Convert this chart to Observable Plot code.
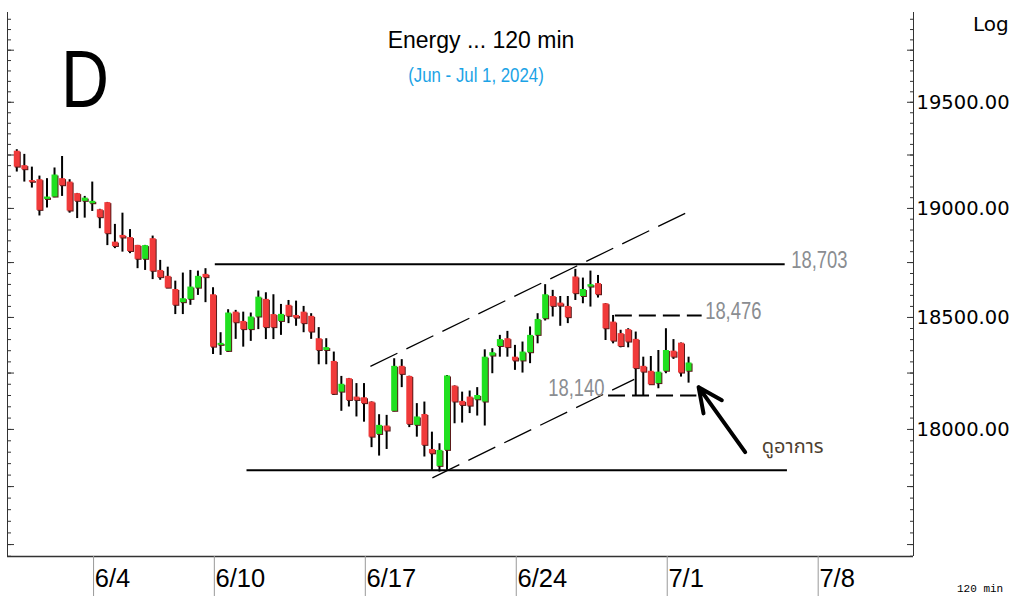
<!DOCTYPE html>
<html>
<head>
<meta charset="utf-8">
<script src="https://cdn.jsdelivr.net/npm/d3@7"></script>
<script src="https://cdn.jsdelivr.net/npm/@observablehq/plot@0.6"></script>
<style>
html, body { margin: 0; padding: 0; background: #fff; }
#wrap { position: relative; width: 1016px; height: 596px; overflow: hidden; background: #fff; }
#chart { position: absolute; left: 0; top: 0; }
.lbl { position: absolute; white-space: nowrap; line-height: 1; }
#title { left: 481px; top: 27px; transform: translateX(-50%); font: 23px "Liberation Sans", Arial, sans-serif; color: #000; }
#subtitle { left: 476px; top: 63px; transform: translateX(-50%) scaleX(0.82); font: 20.5px "Liberation Sans", Arial, sans-serif; color: #1ba3e6; }
#bigD { left: 61px; top: 33px; transform: scaleX(0.82); transform-origin: 0 0; font: 81px "Liberation Sans", Arial, sans-serif; color: #000; }
#logLbl { left: 973px; top: 12px; font: 20px "DejaVu Sans", sans-serif; color: #000; }
#tf { left: 957px; top: 583px; font: 11px "Liberation Mono", monospace; color: #000; }
</style>
</head>
<body>
<div id="wrap">
  <div id="chart"></div>
  <div class="lbl" id="title">Energy ... 120 min</div>
  <div class="lbl" id="subtitle">(Jun - Jul 1, 2024)</div>
  <div class="lbl" id="bigD">D</div>
  <div class="lbl" id="logLbl">Log</div>
  <div class="lbl" id="tf">120 min</div>
</div>
<script>
// ---- OHLC values of the 120-min bars ----
const open = [
  19268,19200,19130,19134,19042,19053,19139,19123,19069,19033,
  19022,18994,19027,18844,18875,18865,18829,18765,18860,18714,
  18687,18627,18567,18582,18633,18696,18603,18374,18347,18524,
  18482,18445,18502,18582,18513,18482,18555,18509,18524,18505,
  18404,18351,18302,18165,18225,18143,18140,18121,17978,18015,
  18080,18280,18235,18018,18066,17912,17838,17908,18192,18124,
  18143,18131,18121,18326,18369,18404,18321,18304,18341,18419,
  18494,18595,18565,18550,18684,18595,18638,18654,18562,18479,
  18427,18445,18401,18280,18258,18203,18258,18348,18384,18258];
const high = [
  19275,19253,19193,19151,19139,19189,19243,19134,19070,19056,
  19123,18996,19028,18926,18978,18902,18829,18829,18872,18760,
  18729,18665,18702,18714,18711,18722,18635,18431,18535,18532,
  18524,18520,18620,18612,18603,18559,18577,18574,18550,18517,
  18454,18404,18344,18235,18226,18203,18203,18122,18065,18062,
  18314,18310,18236,18114,18121,17988,17937,18239,18193,18165,
  18170,18185,18354,18359,18419,18437,18374,18389,18457,18517,
  18649,18623,18595,18595,18719,18679,18711,18691,18563,18509,
  18442,18449,18434,18321,18324,18351,18449,18400,18385,18321];
const low = [
  19170,19123,19095,18965,19002,19050,19056,18978,18953,18955,
  18986,18906,18828,18814,18798,18791,18722,18714,18672,18669,
  18631,18513,18513,18555,18600,18567,18333,18329,18342,18401,
  18366,18392,18445,18400,18400,18419,18472,18460,18431,18401,
  18287,18287,18150,18080,18099,18055,18032,17920,17883,17912,
  18078,18185,18008,17966,17879,17821,17813,17821,18025,18028,
  18070,18059,18015,18247,18321,18321,18262,18250,18292,18381,
  18484,18502,18460,18472,18577,18562,18547,18588,18396,18381,
  18363,18363,18150,18150,18195,18180,18247,18311,18232,18205];
const close = [
  19193,19181,19122,18991,19053,19156,19106,18988,19033,19048,
  19033,18957,18883,18824,18863,18801,18765,18828,18710,18681,
  18633,18555,18585,18638,18687,18681,18366,18383,18520,18476,
  18445,18502,18592,18454,18454,18514,18505,18497,18472,18434,
  18351,18364,18155,18200,18128,18128,18114,17966,18018,17993,
  18280,18244,18022,18055,17930,17893,17908,18237,18121,18106,
  18103,18150,18321,18341,18400,18364,18304,18344,18419,18491,
  18603,18550,18551,18499,18608,18627,18649,18603,18449,18393,
  18369,18389,18270,18254,18198,18254,18351,18321,18250,18295];

// ---- x axis: bar index where each labelled day starts ----
const dayStart  = [10, 26, 46, 66, 86, 106];
const dayLabels = ["6/4", "6/10", "6/17", "6/24", "7/1", "7/8"];

// ---- y axis labels ----
const yTickValues = [18000, 18500, 19000, 19500];

// ---- annotation levels (value drawn, from-bar, to-bar) and their labels ----
const solidValues = [18742, 17821];
const solidFrom   = [26.3, 30.5];
const solidTo     = [101.8, 102.1];
const dashValues  = [18509, 18150];
const dashFrom    = [79.3, 78.4];
const dashTo      = [90.8, 90.1];
const levelLabels = ["18,703", "18,476", "18,140"];

// ---- channel lines (bar index, value) ----
const channelX1 = [46.85, 55.06];
const channelY1 = [18280, 17788];
const channelX2 = [89.23, 81.8];
const channelY2 = [18989, 18222];

// ---- arrow + note ----
const arrowFrom = [96.5, 17900];
const arrowTo   = [90.33, 18187];
const noteText  = "ดูอาการ";
const notePos   = [98.7, 17925];

const xDomain = [-1.23, 118.8];
const yDomain = [17449, 19933];

const RED = "#f03a3a", GREEN = "#20e020";

const candles = open.map((o, i) => ({i, open: o, high: high[i], low: low[i], close: close[i]}));
const up = candles.filter(d => d.close >= d.open);
const down = candles.filter(d => d.close < d.open);

const solid = solidValues.map((v, k) => ({v, a: solidFrom[k], b: solidTo[k]}));
const dashed = dashValues.map((v, k) => ({v, a: dashFrom[k], b: dashTo[k]}));
const chan = channelX1.map((x, k) => ({x1: x, y1: channelY1[k], x2: channelX2[k], y2: channelY2[k]}));

const minorTicks = d3.range(17450, 19950, 50);
const midTicks = minorTicks.filter(v => v % 250 === 0);

const labelFont = {fontFamily: "'Liberation Sans', Arial, sans-serif", fontSize: 23, fill: "#8a8d91"};

const chart = Plot.plot({
  width: 1016,
  height: 596,
  marginLeft: 7,
  marginRight: 103,
  marginTop: 12,
  marginBottom: 40,
  x: {type: "linear", domain: xDomain},
  y: {type: "log", domain: yDomain},
  style: {background: "#fff", color: "#000", overflow: "visible"},
  marks: [
    // frame lines (left, right, bottom)
    Plot.ruleX([xDomain[0], xDomain[1]], {stroke: "#333", strokeWidth: 1}),
    Plot.ruleY([yDomain[0]], {stroke: "#333", strokeWidth: 1.5}),
    // inward ticks on right axis
    Plot.axisY(minorTicks, {anchor: "left", frameAnchor: "right", tickSize: 3, fill: "none", stroke: "#333", label: null}),
    Plot.axisY(midTicks, {anchor: "left", frameAnchor: "right", tickSize: 6, fill: "none", stroke: "#333", label: null}),
    // inward ticks on left axis
    Plot.axisY(minorTicks, {anchor: "right", frameAnchor: "left", tickSize: 3, fill: "none", stroke: "#333", label: null}),
    Plot.axisY(midTicks, {anchor: "right", frameAnchor: "left", tickSize: 6, fill: "none", stroke: "#333", label: null}),
    // right axis labels
    Plot.axisY(yTickValues, {anchor: "right", tickSize: 0, tickPadding: 3, tickFormat: d => d.toFixed(2),
      fontFamily: "'DejaVu Sans', sans-serif", fontSize: 19.5, fill: "#000", label: null}),
    // date ticks and labels
    Plot.axisX(dayStart, {anchor: "bottom", tickSize: 40, dx: 1.3, fill: "none", stroke: "#999", label: null}),
    Plot.axisX(dayStart, {anchor: "bottom", tickSize: 0, tickPadding: 12, dx: 2.5, textAnchor: "start",
      tickFormat: d => dayLabels[dayStart.indexOf(d)],
      fontFamily: "'Liberation Sans', Arial, sans-serif", fontSize: 25.5, fill: "#000", label: null}),

    // channel
    Plot.link(chan, {x1: "x1", y1: "y1", x2: "x2", y2: "y2", stroke: "#000", strokeWidth: 1.3, strokeDasharray: "30,10"}),
    // horizontal levels
    Plot.ruleY(solid, {y: "v", x1: "a", x2: "b", stroke: "#000", strokeWidth: 2}),
    Plot.ruleY(dashed, {y: "v", x1: "a", x2: "b", stroke: "#000", strokeWidth: 2, strokeDasharray: "17,7"}),

    // candles: wicks, shadow, bodies
    Plot.ruleX(candles, {x: "i", y1: "low", y2: "high", stroke: "#000", strokeWidth: 2}),
    Plot.ruleX(candles, {x: "i", y1: "open", y2: "close", stroke: "#5a1a1a", strokeWidth: 6, dx: 1, dy: 1}),
    Plot.ruleX(down, {x: "i", y1: "open", y2: "close", stroke: RED, strokeWidth: 6}),
    Plot.ruleX(up, {x: "i", y1: "open", y2: "close", stroke: GREEN, strokeWidth: 6}),

    // level labels
    Plot.text([levelLabels[0]], {x: solidTo[0], y: solidValues[0], text: d => d, textAnchor: "start", dx: 6, dy: -4, ...labelFont}),
    Plot.text([levelLabels[1]], {x: dashTo[0], y: dashValues[0], text: d => d, textAnchor: "start", dx: 3, dy: -4, ...labelFont}),
    Plot.text([levelLabels[2]], {x: dashFrom[1], y: dashValues[1], text: d => d, textAnchor: "end", dx: -4, dy: -7, ...labelFont}),

    // arrow and note
    Plot.arrow([0], {x1: () => arrowFrom[0], y1: () => arrowFrom[1], x2: () => arrowTo[0], y2: () => arrowTo[1],
      stroke: "#000", strokeWidth: 4, headLength: 10, headAngle: 50}),
    Plot.text([noteText], {x: notePos[0], y: notePos[1], text: d => d, textAnchor: "start",
      fontFamily: "'Noto Sans Thai', Tahoma, 'Noto Sans', sans-serif", fontSize: 20, fill: "#4e3f30"})
  ]
});
document.getElementById("chart").appendChild(chart);

// condense the level labels horizontally (narrow face in the original)
chart.querySelectorAll("text").forEach(t => {
  if (levelLabels.includes(t.textContent)) {
    const w = t.getComputedTextLength();
    t.setAttribute("textLength", (w * 0.8).toFixed(1));
    t.setAttribute("lengthAdjust", "spacingAndGlyphs");
  }
});
</script>
</body>
</html>
